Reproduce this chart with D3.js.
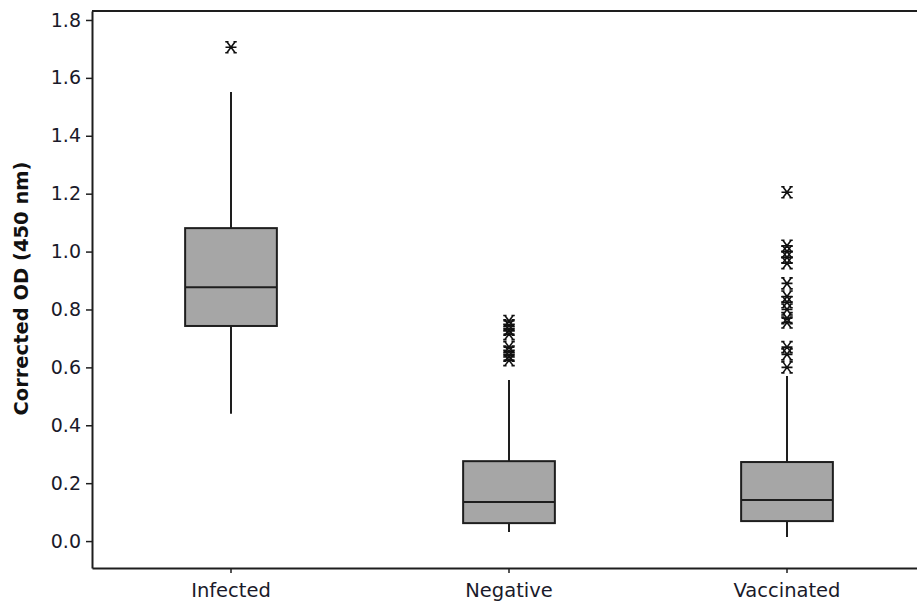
<!DOCTYPE html>
<html>
<head>
<meta charset="utf-8">
<script src="https://cdn.jsdelivr.net/npm/d3@7"></script>
<style>
  html, body { margin: 0; padding: 0; background: #fff; }
  svg { display: block; }
</style>
</head>
<body>
<svg id="chart" width="917" height="601"></svg>
<script>
// ---- Data ----
const categories = ["Infected", "Negative", "Vaccinated"];
const whiskerLow  = [0.44, 0.031, 0.014];
const q1          = [0.743, 0.062, 0.069];
const median      = [0.877, 0.135, 0.142];
const q3          = [1.081, 0.276, 0.273];
const whiskerHigh = [1.551, 0.556, 0.57];
const outliersInfected   = [1.706];
const outliersNegative   = [0.76, 0.745, 0.73, 0.715, 0.67, 0.655, 0.64, 0.625];
const outliersVaccinated = [1.205, 1.02, 1.0, 0.98, 0.96, 0.89, 0.845, 0.825, 0.80, 0.77, 0.755, 0.67, 0.645, 0.60];
const yTicks = [0, 0.2, 0.4, 0.6, 0.8, 1.0, 1.2, 1.4, 1.6, 1.8];
const yDomain = [-0.093, 1.831];
const yTitle = "Corrected OD (450 nm)";

const outliers = [outliersInfected, outliersNegative, outliersVaccinated];
const boxes = categories.map((c, i) => ({
  cat: c, lo: whiskerLow[i], q1: q1[i], med: median[i], q3: q3[i], hi: whiskerHigh[i], out: outliers[i]
}));

// ---- Layout ----
const svg = d3.select("#chart");
const mLeft = 92, mTop = 11, mBottom = 568, mRight = 926;
const ink = "#1e1e1e";

const x = d3.scaleBand().domain(categories).range([mLeft, mRight])
  .paddingInner(0.67).paddingOuter(0.335);
const y = d3.scaleLinear().domain(yDomain).range([mBottom, mTop]);

// top frame line
svg.append("line")
  .attr("x1", mLeft).attr("x2", 917).attr("y1", mTop).attr("y2", mTop)
  .attr("stroke", ink).attr("stroke-width", 2);

// Y axis
const yAxis = svg.append("g")
  .attr("transform", `translate(${mLeft},0)`)
  .call(d3.axisLeft(y).tickValues(yTicks).tickFormat(d3.format(".1f")).tickSize(6).tickSizeOuter(0).tickPadding(5));
yAxis.select(".domain").attr("stroke", ink).attr("stroke-width", 2);
yAxis.selectAll(".tick line").attr("stroke", ink).attr("stroke-width", 1.5);
yAxis.selectAll(".tick text")
  .attr("font-family", "DejaVu Sans, Verdana, sans-serif")
  .attr("font-size", 19).attr("fill", "#1a1a2a");

// X axis
const xAxis = svg.append("g")
  .attr("transform", `translate(0,${mBottom})`)
  .call(d3.axisBottom(x).tickSize(5).tickSizeOuter(0).tickPadding(10));
xAxis.select(".domain").attr("stroke", ink).attr("stroke-width", 2);
xAxis.selectAll(".tick line").attr("stroke", ink).attr("stroke-width", 1.5);
xAxis.selectAll(".tick text")
  .attr("font-family", "DejaVu Sans, Verdana, sans-serif")
  .attr("font-size", 19.5).attr("fill", "#1a1a2a");

// Y title
svg.append("text")
  .attr("transform", `translate(28,${(y(0.0) + y(1.8)) / 2 + 8}) rotate(-90)`)
  .attr("text-anchor", "middle")
  .attr("font-family", "DejaVu Sans, Verdana, sans-serif")
  .attr("font-weight", "bold")
  .attr("font-size", 19.5)
  .attr("fill", "#111")
  .text(yTitle);

// Boxes
const g = svg.append("g");
const bw = x.bandwidth();
const box = g.selectAll(".box").data(boxes).join("g").attr("class", "box");

// whiskers
box.append("line")
  .attr("x1", d => x(d.cat) + bw / 2).attr("x2", d => x(d.cat) + bw / 2)
  .attr("y1", d => y(d.q3)).attr("y2", d => y(d.hi))
  .attr("stroke", ink).attr("stroke-width", 2);
box.append("line")
  .attr("x1", d => x(d.cat) + bw / 2).attr("x2", d => x(d.cat) + bw / 2)
  .attr("y1", d => y(d.q1)).attr("y2", d => y(d.lo))
  .attr("stroke", ink).attr("stroke-width", 2);
// box
box.append("rect")
  .attr("x", d => x(d.cat)).attr("width", bw)
  .attr("y", d => y(d.q3)).attr("height", d => y(d.q1) - y(d.q3))
  .attr("fill", "#a6a6a6").attr("stroke", ink).attr("stroke-width", 2);
// median
box.append("line")
  .attr("x1", d => x(d.cat)).attr("x2", d => x(d.cat) + bw)
  .attr("y1", d => y(d.med)).attr("y2", d => y(d.med))
  .attr("stroke", ink).attr("stroke-width", 2);

// outlier asterisks
const s = 5.5;
const starPath = `M${-s},0H${s}M${-s * 0.75},${-s}L${s * 0.75},${s}M${-s * 0.75},${s}L${s * 0.75},${-s}` +
  `M${-s * 1.05},${-s}H${-s * 0.45}M${s * 0.45},${-s}H${s * 1.05}M${-s * 1.05},${s}H${-s * 0.45}M${s * 0.45},${s}H${s * 1.05}`;
box.each(function (d) {
  d3.select(this).selectAll(".out").data(d.out).join("path")
    .attr("class", "out")
    .attr("transform", v => `translate(${x(d.cat) + bw / 2},${y(v)})`)
    .attr("d", starPath)
    .attr("fill", "none").attr("stroke", "#111").attr("stroke-width", 1.6);
});
</script>
</body>
</html>
